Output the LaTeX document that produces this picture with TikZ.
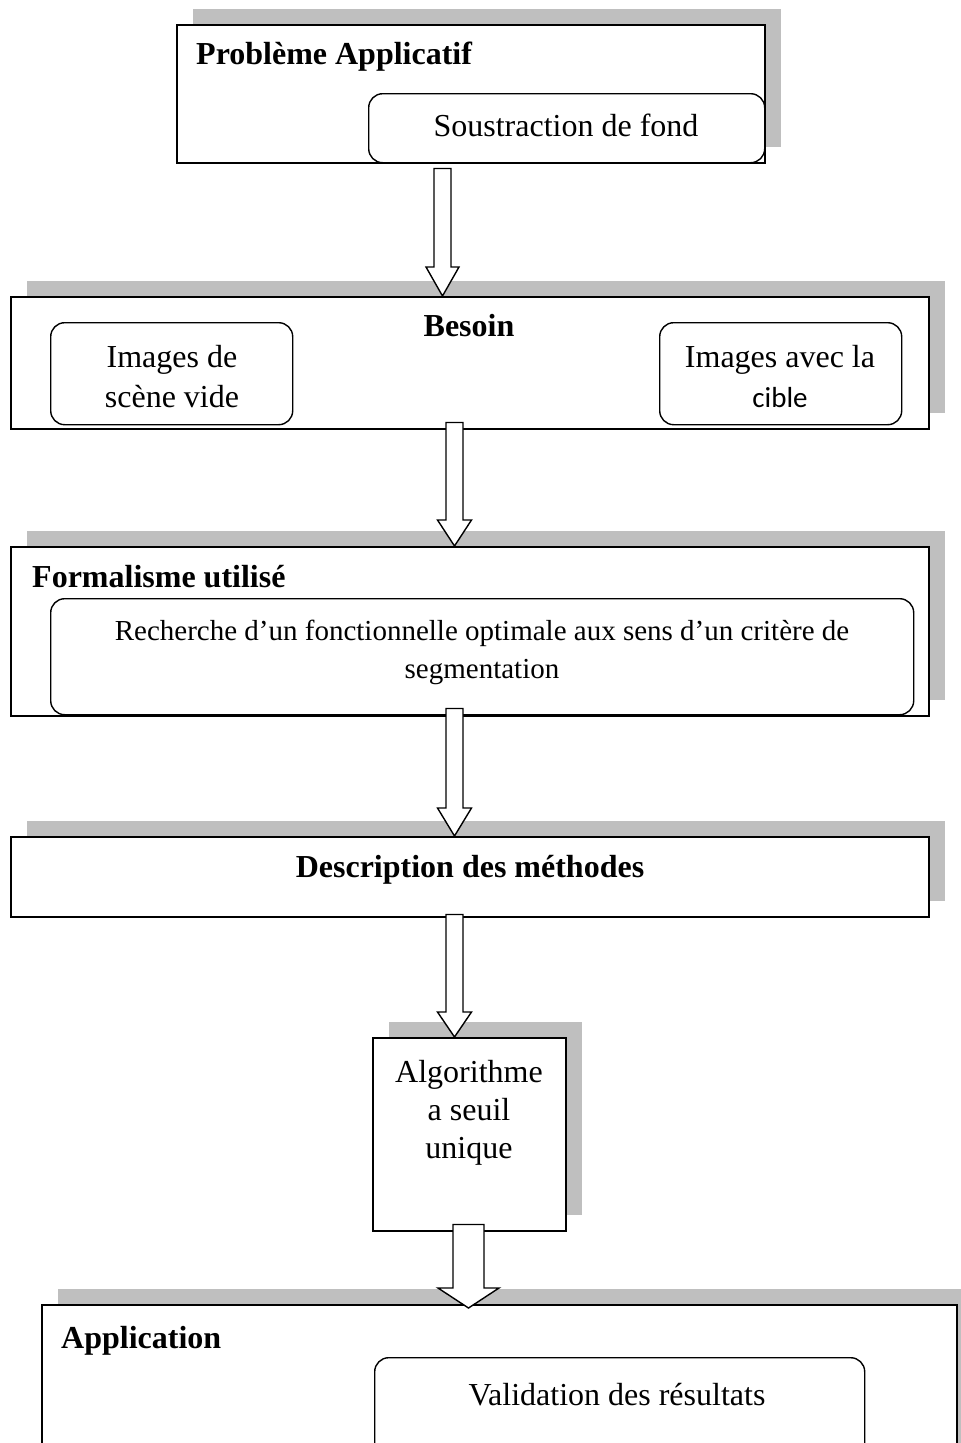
\documentclass[tikz,border=0pt]{standalone}
\usepackage{fontspec}
\setmainfont{Liberation Serif}
\newfontfamily\calibrilike{Carlito}
\usetikzlibrary{calc,shadows}
\definecolor{shadowgray}{RGB}{191,191,191}
\tikzset{
  framebox/.style={draw=black, line width=1.5pt, fill=white, inner sep=0pt,
    anchor=north west,
    drop shadow={shadow xshift=16pt, shadow yshift=16pt, fill=shadowgray, opacity=1}},
  roundbox/.style={draw=black, line width=1.4pt, fill=white, inner sep=0pt,
    anchor=north west, rounded corners=14pt},
  txt/.style={inner sep=0pt, font=\fontsize{32}{40}\selectfont},
  ttl/.style={txt, font=\fontsize{32}{40}\selectfont\bfseries},
  blockarrowstyle/.style={draw=black, line width=1.4pt, fill=white, line join=miter},
}
% block arrow: x, start point, tip point, half shaft, half head, head length
\newcommand\blockarrow[6]{%
  \draw[blockarrowstyle] let \p1=(#2), \p2=(#3) in
    (#1pt-#4pt,\y1) -- (#1pt+#4pt,\y1) -- (#1pt+#4pt,\y2+#6pt)
    -- (#1pt+#5pt,\y2+#6pt) -- (#1pt,\y2) -- (#1pt-#5pt,\y2+#6pt)
    -- (#1pt-#4pt,\y2+#6pt) -- cycle;}
\begin{document}
\begin{tikzpicture}[x=1pt,y=-1pt]
\useasboundingbox (0,0) rectangle (961,1443);
\clip (0,0) rectangle (961,1443);

% stage 1
\node[framebox, minimum width=588, minimum height=138] (b1) at (176,24) {};
\node[roundbox, minimum width=396, minimum height=69] (r1) at (368,93) {};
\node[ttl, anchor=base west] (t1) at (196,64) {Problème Applicatif};
\node[txt, anchor=base] (t1b) at (566,136) {Soustraction de fond};

% stage 2 (multi-line texts are placed by the baseline of their last line)
\node[framebox, minimum width=918, minimum height=132] (b2) at (10,296) {};
\node[roundbox, minimum width=242, minimum height=102] (r2a) at (50,322) {};
\node[roundbox, minimum width=242, minimum height=102] (r2b) at (659,322) {};
\node[ttl, anchor=base] (t2) at (469,336) {Besoin};
\node[txt, anchor=base, align=center] (t2a) at (172,407) {Images de\\scène vide};
\node[txt, anchor=base, align=center] (t2b) at (780,407)
  {Images avec la\\{\calibrilike\fontsize{29}{40}\selectfont cible}};

% stage 3
\node[framebox, minimum width=918, minimum height=169] (b3) at (10,546) {};
\node[roundbox, minimum width=863, minimum height=116] (r3) at (50,598) {};
\node[ttl, anchor=base west] (t3) at (32,587) {Formalisme utilisé};
\node[txt, anchor=base, align=center, font=\fontsize{29}{38}\selectfont] (t3b) at (482,678)
  {Recherche d’un fonctionnelle optimale aux sens d’un critère de\\segmentation};

% stage 4
\node[framebox, minimum width=918, minimum height=80] (b4) at (10,836) {};
\node[ttl, anchor=base] (t4) at (470,877) {Description des méthodes};

% stage 5
\node[framebox, minimum width=193, minimum height=193] (b5) at (372,1037) {};
\node[txt, anchor=base, align=center, font=\fontsize{32}{38}\selectfont] (t5) at (469,1158)
  {Algorithme\\a seuil\\unique};

% stage 6
\node[framebox, minimum width=915, minimum height=220] (b6) at (41,1304) {};
\node[roundbox, minimum width=490, minimum height=160] (r6) at (374,1357) {};
\node[ttl, anchor=base west] (t6) at (61,1348) {Application};
\node[txt, anchor=base] (t6b) at (617,1405) {Validation des résultats};

% connectors
\blockarrow{442.5}{$(b1.south)+(0,5)$}{b2.north}{8.5}{16.5}{29}
\blockarrow{454.5}{$(b2.south)+(0,-7)$}{b3.north}{8.5}{17}{26}
\blockarrow{454.5}{$(b3.south)+(0,-8)$}{b4.north}{8.5}{17}{28}
\blockarrow{454.5}{$(b4.south)+(0,-3)$}{b5.north}{8.5}{17}{25}
\blockarrow{468.5}{$(b5.south)+(0,-7)$}{$(b6.north)+(0,4)$}{15.5}{30.5}{20}
\end{tikzpicture}
\end{document}
